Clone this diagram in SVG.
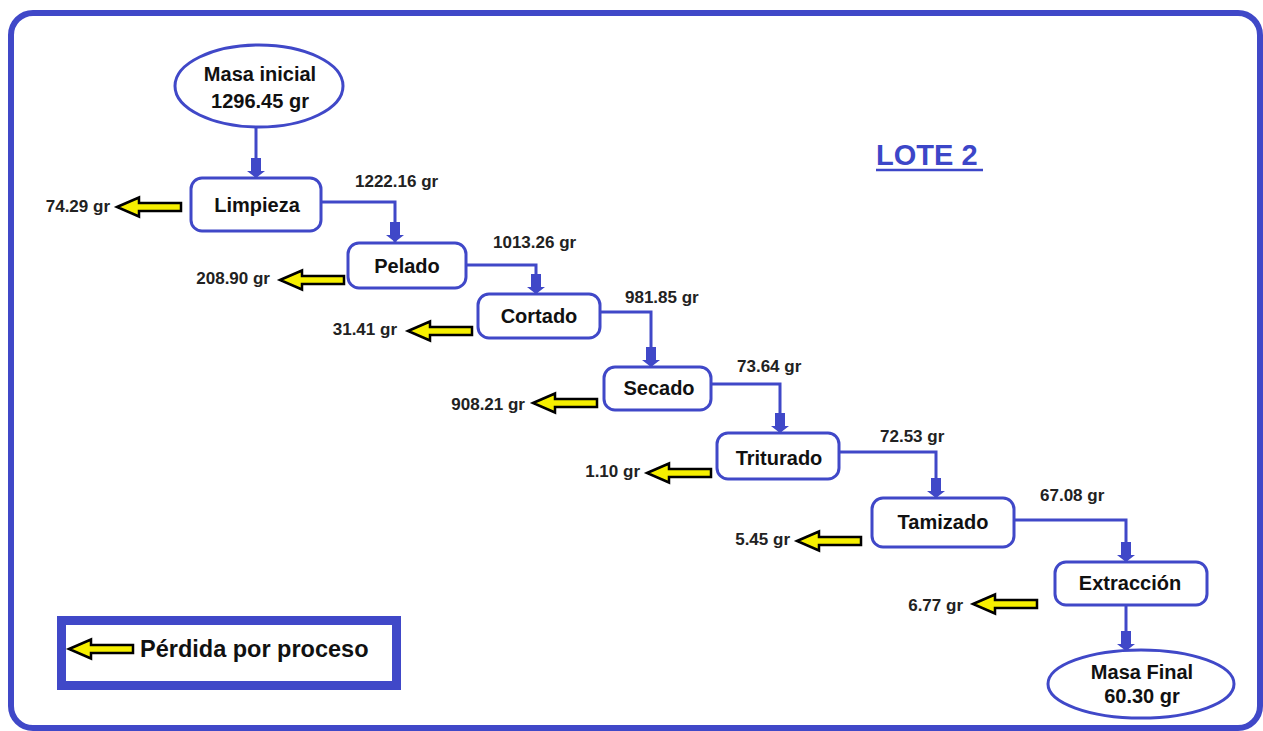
<svg xmlns="http://www.w3.org/2000/svg" width="1263" height="731" viewBox="0 0 1263 731">
<style>
.box{fill:#fff;stroke:#4048c8;stroke-width:3}
.nt{font-family:"Liberation Sans",Arial,sans-serif;font-weight:bold;font-size:20px;fill:#111;text-anchor:middle}
.fl{font-family:"Liberation Sans",Arial,sans-serif;font-weight:bold;font-size:17px;fill:#222}
.ls{font-family:"Liberation Sans",Arial,sans-serif;font-weight:bold;font-size:17px;fill:#222;text-anchor:end}
.con{fill:none;stroke:#4048c8;stroke-width:3;marker-end:url(#ah)}
.loss{fill:#f6ef00;stroke:#000;stroke-width:2.5;stroke-linejoin:miter}
</style>
<defs>
<marker id="ah" viewBox="0 -10 22 20" refX="20" refY="0" markerWidth="22" markerHeight="20" markerUnits="userSpaceOnUse" orient="auto">
<path d="M0,-5 H13 V-9 L20,0 L13,9 V5 H0 Z" fill="#4048c8"/>
</marker>
<path id="la" class="loss" d="M0,0 L22,-9.5 V-4 H64 V4 H22 V9.5 Z"/>
</defs>
<rect x="0" y="0" width="1263" height="731" fill="#fff"/>
<rect x="11" y="13" width="1249" height="715" rx="22" fill="none" stroke="#4048c8" stroke-width="6"/>

<g id="title">
<text x="876" y="165" font-family="Liberation Sans,Arial,sans-serif" font-weight="bold" font-size="29" fill="#3c46c8">LOTE 2</text>
<line x1="876" y1="170" x2="983" y2="170" stroke="#3c46c8" stroke-width="2.5"/>
</g>

<g id="connectors">
<path class="con" d="M256,127 V178"/>
<path class="con" d="M321,202 H395 V242"/>
<path class="con" d="M466,265 H536 V294"/>
<path class="con" d="M600,312 H651 V367"/>
<path class="con" d="M711,384 H780 V433"/>
<path class="con" d="M839,452 H936 V498"/>
<path class="con" d="M1014,520 H1126 V562"/>
<path class="con" d="M1126,605 V651"/>
<text class="fl" x="355" y="187">1222.16 gr</text>
<text class="fl" x="493" y="248">1013.26 gr</text>
<text class="fl" x="625" y="303">981.85 gr</text>
<text class="fl" x="737" y="372">73.64 gr</text>
<text class="fl" x="880" y="442">72.53 gr</text>
<text class="fl" x="1040" y="501">67.08 gr</text>
</g>

<g id="n-masa-inicial">
<ellipse class="box" cx="259" cy="86" rx="84" ry="41"/>
<text class="nt" x="260" y="81">Masa inicial</text>
<text class="nt" x="260" y="108">1296.45 gr</text>
</g>
<g id="n-limpieza">
<rect class="box" x="191" y="178" width="130" height="53" rx="11"/>
<text class="nt" x="257" y="212">Limpieza</text>
</g>
<g id="n-pelado">
<rect class="box" x="348" y="243" width="118" height="45" rx="11"/>
<text class="nt" x="407" y="273">Pelado</text>
</g>
<g id="n-cortado">
<rect class="box" x="478" y="294" width="122" height="44" rx="11"/>
<text class="nt" x="539" y="323">Cortado</text>
</g>
<g id="n-secado">
<rect class="box" x="604" y="367" width="107" height="43" rx="11"/>
<text class="nt" x="659" y="395">Secado</text>
</g>
<g id="n-triturado">
<rect class="box" x="717" y="433" width="122" height="46" rx="11"/>
<text class="nt" x="779" y="465">Triturado</text>
</g>
<g id="n-tamizado">
<rect class="box" x="872" y="498" width="142" height="49" rx="11"/>
<text class="nt" x="943" y="529">Tamizado</text>
</g>
<g id="n-extraccion">
<rect class="box" x="1055" y="562" width="152" height="43" rx="11"/>
<text class="nt" x="1130" y="590">Extracción</text>
</g>
<g id="n-masa-final">
<ellipse class="box" cx="1141" cy="684" rx="93" ry="34"/>
<text class="nt" x="1142" y="679">Masa Final</text>
<text class="nt" x="1142" y="703">60.30 gr</text>
</g>

<g id="losses">
<use href="#la" transform="translate(117,207)"/>
<text class="ls" x="110" y="212">74.29 gr</text>
<use href="#la" transform="translate(280,280)"/>
<text class="ls" x="270" y="284">208.90 gr</text>
<use href="#la" transform="translate(408,331)"/>
<text class="ls" x="397" y="335">31.41 gr</text>
<use href="#la" transform="translate(533,403)"/>
<text class="ls" x="525" y="410">908.21 gr</text>
<use href="#la" transform="translate(647,473)"/>
<text class="ls" x="640" y="477">1.10 gr</text>
<use href="#la" transform="translate(797,541)"/>
<text class="ls" x="790" y="545">5.45 gr</text>
<use href="#la" transform="translate(973,604)"/>
<text class="ls" x="963" y="611">6.77 gr</text>
</g>

<g id="legend">
<rect x="61.5" y="620.5" width="335" height="65" fill="#fff" stroke="#4048c8" stroke-width="9"/>
<use href="#la" transform="translate(69,649)"/>
<text x="140" y="657" font-family="Liberation Sans,Arial,sans-serif" font-weight="bold" font-size="23.5" fill="#111">Pérdida por proceso</text>
</g>
</svg>
